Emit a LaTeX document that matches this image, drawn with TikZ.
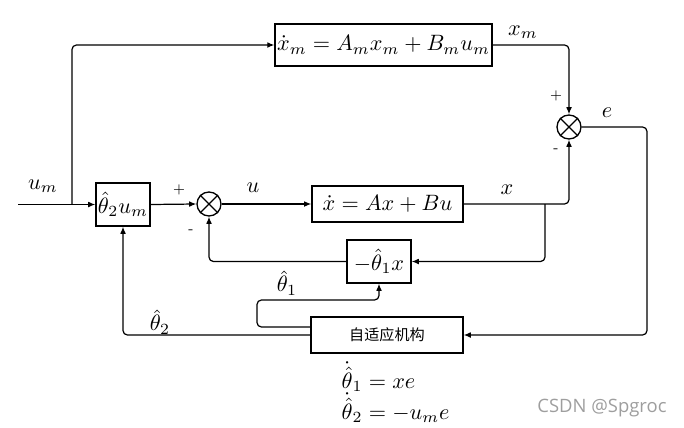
\documentclass[tikz,border=0pt]{standalone}
\usepackage{fontspec}
\newfontfamily\cjk{Noto Sans CJK SC}
\newfontfamily\wmfont{Open Sans}
\usetikzlibrary{arrows.meta,calc}
\begin{document}
\begin{tikzpicture}[x=0.45pt,y=-0.45pt,
  line width=0.55pt,
  blk/.style={draw,rectangle,inner sep=0pt,line width=0.6pt},
  sumc/.style={draw,circle,minimum size=10.8pt,inner sep=0pt,line width=0.6pt},
  arr/.style={-{Latex[length=3.2pt,width=2.6pt]},rounded corners=2pt},
  ln/.style={rounded corners=2pt},
  sgn/.style={font=\sffamily\fontsize{6.5}{7}\selectfont,inner sep=0pt},
  lbl/.style={inner sep=0pt}]
\useasboundingbox (0,0) rectangle (684,428);
% blocks
\node[blk,minimum width=97.6pt,minimum height=18.9pt] (top) at (383.5,45) {$\dot{x}_m=A_mx_m+B_mu_m$};
\node[blk,minimum width=24.3pt,minimum height=19.35pt] (b2) at (123,204.5) {$\hat{\theta}_2u_m$};
\node[blk,minimum width=68pt,minimum height=16.2pt] (plant) at (387.5,204) {$\dot{x}=Ax+Bu$};
\node[blk,minimum width=28.8pt,minimum height=19.35pt] (neg) at (379,261.5) {$-\hat{\theta}_1x$};
\node[blk,minimum width=68.4pt,minimum height=16.2pt,font=\cjk\fontsize{6.8}{8}\selectfont] (adapt) at (387,335) {自适应机构};
% summing junctions
\node[sumc] (s1) at (209,204) {};
\draw[line width=0.6pt] (s1.north east) -- (s1.south west) (s1.north west) -- (s1.south east);
\node[sumc] (s2) at (569,127) {};
\draw[line width=0.6pt] (s2.north east) -- (s2.south west) (s2.north west) -- (s2.south east);
% coordinates
\coordinate (in) at (18,204.5);
\coordinate (br) at (72,204.5);
\coordinate (eR) at (647,127);
\coordinate (xb) at (545,204);
\coordinate (t1a) at (257,327);
\coordinate (t1b) at (257,300);
% connectors
\draw[arr] (in) -- (b2.west);
\draw[arr] (br) |- (top.west);
\draw[arr] (top.east) -| (s2.north);
\draw[arr] (s2.east) -- (eR) |- (adapt.east);
\draw[arr] (b2.east) -- (s1.west);
\draw[arr] (s1.east) -- (plant.west);
\draw[arr] (plant.east) -| (s2.south);
\draw[arr] (xb) |- (neg.east);
\draw[arr] (neg.west) -| (s1.south);
\draw[arr] (adapt.west) -| (b2.south);
\draw[arr] (adapt.west |- t1a) -- (t1a) -- (t1b) -| (neg.south);
% labels
\node[lbl] at (43,186) {$u_m$};
\node[sgn] at (179,190) {+};
\node[sgn] at (191,232) {-};
\node[lbl] at (253,188) {$u$};
\node[lbl] at (507,190) {$x$};
\node[lbl] at (523,32) {$x_m$};
\node[sgn] at (556,96) {+};
\node[sgn] at (556,151) {-};
\node[lbl] at (607,113) {$e$};
\node[lbl] at (287,283) {$\hat{\theta}_1$};
\node[lbl] at (160,322) {$\hat{\theta}_2$};
\node[lbl,anchor=west] at (341,377) {$\dot{\hat{\theta}}_1=xe$};
\node[lbl,anchor=west] at (341,408) {$\dot{\hat{\theta}}_2=-u_me$};
\node[lbl,text=black!38,font=\wmfont\fontsize{8.3}{9}\selectfont] at (602,408) {CSDN @Spgroc};
\end{tikzpicture}
\end{document}
